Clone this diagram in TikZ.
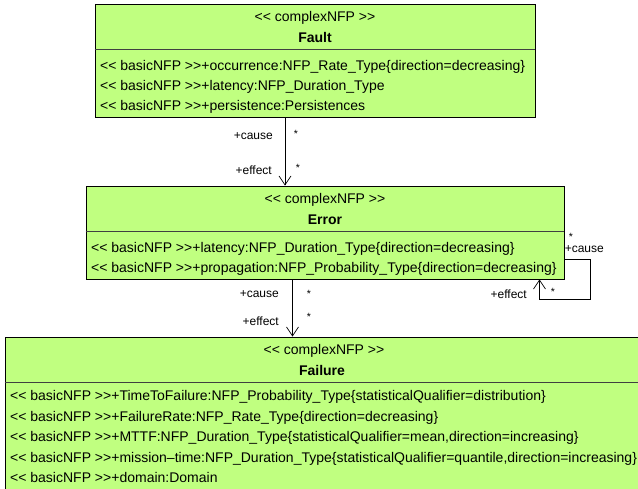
\documentclass[tikz,border=0pt]{standalone}
\usepackage{fontspec}
\setmainfont{Liberation Sans}
\usetikzlibrary{arrows.meta}
\definecolor{nfpgreen}{RGB}{192,255,128}

\begin{document}
\begin{tikzpicture}[x=1pt,y=-1pt,
  nfpbox/.style={draw,fill=nfpgreen,line width=0.8pt,inner sep=0pt},
  sepline/.style={draw=black!75,line width=0.8pt},
  stereo/.style={font=\fontsize{14}{16}\selectfont,anchor=base,inner sep=0pt},
  title/.style={font=\fontsize{14}{16}\selectfont\bfseries,anchor=base,inner sep=0pt},
  attr/.style={font=\fontsize{14}{16}\selectfont,anchor=base west,inner sep=0pt},
  role/.style={font=\fontsize{12}{14}\selectfont,anchor=base east,inner sep=0pt},
  mult/.style={font=\fontsize{10.5}{12}\selectfont,inner sep=0pt},
  assoc/.style={draw,line width=0.7pt,-{Straight Barb[length=9pt,width=12pt]}}]
\useasboundingbox (0,0) rectangle (638,489);
\clip (0,0) rectangle (638,489);

% Fault
\node[nfpbox,minimum width=440pt,minimum height=113pt] (fault) at (315,60.5) {};
\node[stereo] (faultst) at (315,21.5) {<{}< complexNFP >{}>};
\node[title] (faultname) at (315,42.5) {Fault};
\draw[sepline] ([yshift=-46pt]fault.north west) -- ([yshift=-46pt]fault.north east);
\node[attr] (fault1) at (100,70.5) {<{}< basicNFP >{}>+occurrence:NFP\_Rate\_Type\{direction=decreasing\}};
\node[attr] (fault2) at (100,90.5) {<{}< basicNFP >{}>+latency:NFP\_Duration\_Type};
\node[attr] (fault3) at (100,110.5) {<{}< basicNFP >{}>+persistence:Persistences};

% Error
\node[nfpbox,minimum width=478pt,minimum height=93pt] (error) at (325,232.5) {};
\node[stereo] (errorst) at (325,203.5) {<{}< complexNFP >{}>};
\node[title] (errorname) at (325,224.5) {Error};
\draw[sepline] ([yshift=-46pt]error.north west) -- ([yshift=-46pt]error.north east);
\node[attr] (error1) at (91,252.5) {<{}< basicNFP >{}>+latency:NFP\_Duration\_Type\{direction=decreasing\}};
\node[attr] (error2) at (91,272.5) {<{}< basicNFP >{}>+propagation:NFP\_Probability\_Type\{direction=decreasing\}};

% Failure
\node[nfpbox,minimum width=645pt,minimum height=180pt] (failure) at (327.5,427) {};
\node[stereo] (failurest) at (324,355) {<{}< complexNFP >{}>};
\node[title] (failurename) at (322,375.5) {Failure};
\draw[sepline] ([yshift=-46pt]failure.north west) -- ([yshift=-46pt]failure.north east);
\node[attr] (failure1) at (10,400.5) {<{}< basicNFP >{}>+TimeToFailure:NFP\_Probability\_Type\{statisticalQualifier=distribution\}};
\node[attr] (failure2) at (10,421) {<{}< basicNFP >{}>+FailureRate:NFP\_Rate\_Type\{direction=decreasing\}};
\node[attr] (failure3) at (10,441.5) {<{}< basicNFP >{}>+MTTF:NFP\_Duration\_Type\{statisticalQualifier=mean,direction=increasing\}};
\node[attr] (failure4) at (10,462) {<{}< basicNFP >{}>+mission\textendash time:NFP\_Duration\_Type\{statisticalQualifier=quantile,direction=increasing\}};
\node[attr] (failure5) at (10,482.5) {<{}< basicNFP >{}>+domain:Domain};

% Fault -> Error
\draw[assoc] ([xshift=-30pt]fault.south) -- ([xshift=-30pt]fault.south |- error.north);
\node[role] (c1) at (273,140) {+cause};
\node[mult] (m1) at (296,134) {*};
\node[role] (e1) at (272,175) {+effect};
\node[mult] (m2) at (298,168) {*};

% Error -> Failure
\draw[assoc] ([xshift=-32.5pt]error.south) -- ([xshift=-32.5pt]error.south |- failure.north);
\node[role] (c2) at (279,298) {+cause};
\node[mult] (m3) at (309,294) {*};
\node[role] (e2) at (279,326) {+effect};
\node[mult] (m4) at (309,317) {*};

% Error -> Error
\coordinate (loopc) at (590,299);
\draw[assoc] ([yshift=-26.5pt]error.east) -| (loopc) -| ([xshift=214.5pt]error.south);
\node[mult] (m5) at (571,237) {*};
\node[role] (c3) at (604,253) {+cause};
\node[role] (e3) at (527,299) {+effect};
\node[mult] (m6) at (553,292) {*};
\end{tikzpicture}
\end{document}
